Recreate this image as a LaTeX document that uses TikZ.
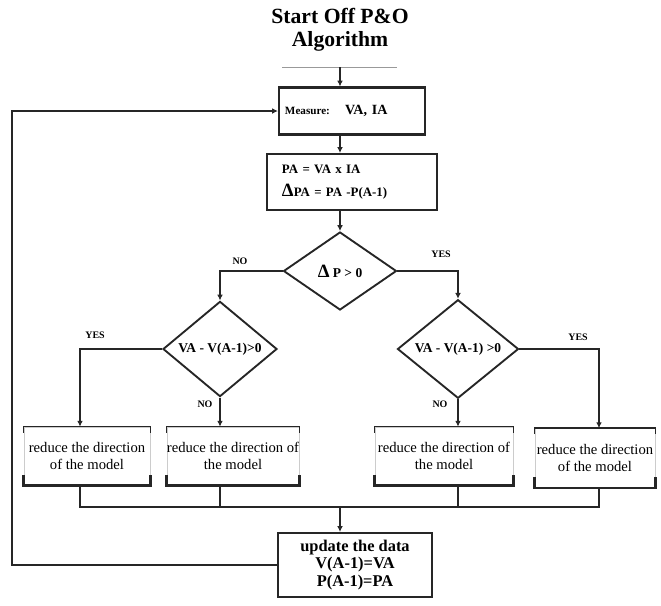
\documentclass[tikz,border=0pt]{standalone}
\usepackage{fontspec}
\setmainfont{Liberation Serif}
\usetikzlibrary{shapes.geometric,arrows.meta}

\begin{document}
\begin{tikzpicture}[x=0.03cm,y=-0.03cm,
    line/.style={draw=black!85, line width=1.1pt},
    arr/.style={line, -{Latex[length=5pt,width=5pt]}},
    blk/.style={draw=black!85, line width=1.8pt, rectangle, align=left},
    dec/.style={draw=black!85, line width=1.6pt, diamond, inner sep=0pt,
        font=\bfseries\fontsize{11.5}{13}\selectfont},
    act/.style={draw=black!20, line width=0.6pt, rectangle, align=center,
        inner sep=0pt, font=\fontsize{12.5}{15}\selectfont},
    lbl/.style={font=\bfseries\fontsize{8.5}{10}\selectfont}]
\useasboundingbox (0,0) rectangle (661,605);

% title
\node[align=center, font=\bfseries\fontsize{18.5}{20}\selectfont] (title) at (340,30)
    {Start Off P\&O\\Algorithm};
\draw[black!40] (282,67) -- (397,67);
\coordinate (in) at (340,67);

% measure and power
\node[blk, minimum width=4.38cm, minimum height=1.41cm, text width=4.02cm, inner xsep=0.18cm,
    font=\bfseries\fontsize{12}{13}\selectfont] (meas) at (352,111)
    {{\fontsize{9.5}{10}\selectfont Measure:}\hspace{13pt}VA, IA};
\node[blk, minimum width=5.1cm, minimum height=1.68cm, text width=4.2cm, inner xsep=0.45cm,
    font=\bfseries\fontsize{11}{19}\selectfont] (calc) at (352,182)
    {PA = VA x IA\\{\fontsize{16}{16}\selectfont Δ}PA = PA -P(A-1)};

% decisions
\node[dec, minimum width=3.39cm, minimum height=2.34cm] (dp) at (340,271)
    {{\fontsize{16}{16}\selectfont Δ} P > 0};
\node[dec, minimum width=3.42cm, minimum height=2.46cm] (dl) at (220,349) {VA - V(A-1)>0};
\node[dec, minimum width=3.63cm, minimum height=2.34cm] (dr) at (458,349) {VA - V(A-1) >0};

% actions
\node[act, minimum width=3.78cm, minimum height=1.74cm] (b1) at (87,456)
    {reduce the direction\\of the model};
\node[act, minimum width=3.9cm, minimum height=1.74cm] (b2) at (233,456)
    {reduce the direction of\\the model};
\node[act, minimum width=4.14cm, minimum height=1.74cm] (b3) at (444,456)
    {reduce the direction of\\the model};
\node[act, minimum width=3.6cm, minimum height=1.77cm] (b4) at (595,458)
    {reduce the direction\\of the model};
\foreach \b in {b1,b2,b3,b4} {
    \draw[black!85, line width=1.2pt] ([yshift=-5pt]\b.north west) |- (\b.north east) -- ++(0pt,-5pt);
    \draw[black!85, line width=2pt] ([yshift=9pt]\b.south west) |- (\b.south east) -- ++(0pt,9pt);
}

% update
\node[blk, minimum width=4.62cm, minimum height=1.92cm, align=center,
    font=\bfseries\fontsize{14}{15}\selectfont] (upd) at (355,565)
    {update the data\\V(A-1)=VA\\P(A-1)=PA};

% labels
\node[lbl] (no1) at (240,261) {NO};
\node[lbl] (yes1) at (441,254) {YES};
\node[lbl] (yes2) at (95,335) {YES};
\node[lbl] (no2) at (205,404) {NO};
\node[lbl] (no3) at (440,404) {NO};
\node[lbl] (yes3) at (578,337) {YES};

% connectors
\coordinate (xl) at (80,0);
\coordinate (xr) at (599,0);
\coordinate (jn) at (340,507);
\coordinate (fb) at (12,0);
\draw[arr] (in) -- (meas.north -| in);
\draw[arr] (meas.south -| in) -- (calc.north -| in);
\draw[arr] (calc.south -| in) -- (dp.north);
\draw[arr] (dp.west) -| (dl.north);
\draw[arr] (dp.east) -| (dr.north);
\draw[arr] (dl.west) -| (xl |- b1.north);
\draw[arr] (dl.south) -- (dl.south |- b2.north);
\draw[arr] (dr.south) -- (dr.south |- b3.north);
\draw[arr] (dr.east) -| (xr |- b4.north);
\draw[line] (xl |- b1.south) -- (xl |- jn) -- (xr |- jn) -- (xr |- b4.south);
\draw[line] (dl.south |- b2.south) -- (dl.south |- jn);
\draw[line] (dr.south |- b3.south) -- (dr.south |- jn);
\draw[arr] (jn) -- (upd.north -| jn);
\draw[arr] (upd.west) -- (fb |- upd.west) |- (meas.west);

\end{tikzpicture}
\end{document}
